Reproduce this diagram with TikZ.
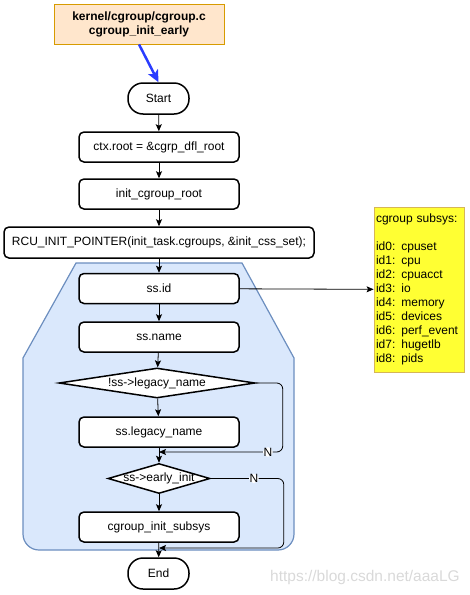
\documentclass[tikz,border=0pt]{standalone}
\usepackage{fontspec}
\setmainfont{Liberation Sans}
\usetikzlibrary{arrows.meta,shapes.geometric}
\definecolor{fileFill}{HTML}{FFE6CC}
\definecolor{fileDraw}{HTML}{D79B00}
\definecolor{loopFill}{HTML}{DAE8FC}
\definecolor{loopDraw}{HTML}{6C8EBF}
\definecolor{noteFill}{HTML}{FFFF33}
\definecolor{noteDraw}{HTML}{D6B656}
\definecolor{callBlue}{HTML}{2A3CFF}
\tikzset{
  fc_node/.style = {align=center, inner sep=0pt, text centered,
    font=\fontsize{12}{14}\selectfont},
  fc_proc/.style = {fc_node, rectangle, rounded corners=5pt, draw=black,
    fill=white, line width=1.5pt, minimum width=160pt, minimum height=30pt},% organigramme, bloc
  fc_term/.style = {fc_node, rectangle, rounded corners=15pt, draw=black,
    fill=white, line width=1.5pt, minimum width=61pt, minimum height=31pt},% organigramme, debut / fin
  fc_cond/.style = {fc_node, diamond, draw=black, fill=white,
    line width=1.5pt, minimum height=30pt},% organigramme, test
  fc_file/.style = {fc_node, rectangle, draw=fileDraw, fill=fileFill,
    line width=0.8pt, minimum width=170pt, minimum height=40pt,
    font=\fontsize{12}{14}\selectfont\bfseries},% fichier source
  fc_note/.style = {fc_node, rectangle, draw=noteDraw, fill=noteFill,
    line width=0.8pt, align=left, text width=86pt, inner xsep=2pt,
    minimum height=165pt},% note
  fc_n/.style = {fc_node, fill=white, inner sep=0.5pt},% etiquette
  fc_call/.style = {-{Stealth[length=12pt, width=11pt, inset=3pt]},
    line width=2.5pt, draw=callBlue},
  fc_loop/.style = {-, draw=loopDraw, fill=loopFill, line width=1.2pt}
}

\begin{document}
\begin{tikzpicture}[x=1pt, y=-1pt, ->,
  >={Stealth[length=7pt, width=6pt, inset=1.5pt]}, line width=0.8pt]
\useasboundingbox (0,0) rectangle (470,595);
% boucle sur les sous-systemes
\draw [fc_loop] (76,263) -- (242,263) -- (294,358) [rounded corners=16pt]
  -- (294,550) -- (23,550) [sharp corners] -- (23,358) -- cycle;

\node [fc_file] (file) at (139,24) {kernel/cgroup/cgroup.c\\cgroup\_init\_early};
\node [fc_term] (start) at (158.5,98.5) {Start};
\node [fc_proc] (ctxroot) at (159,147) {ctx.root = \&cgrp\_dfl\_root};
\node [fc_proc] (initroot) at (159,194) {init\_cgroup\_root};
\node [fc_proc, minimum width=310pt, minimum height=31pt] (rcu) at (159,242.5)
  {RCU\_INIT\_POINTER(init\_task.cgroups, \&init\_css\_set);};
\node [fc_proc] (ssid) at (159,288.5) {ss.id};
\node [fc_proc] (ssname) at (159,337) {ss.name};
\node [fc_cond, aspect=6.5, minimum width=196pt] (legacy_if) at (157,383)
  {!ss->legacy\_name};
\node [fc_proc] (sslegacy) at (159,432) {ss.legacy\_name};
\node [fc_cond, aspect=3.4, inner xsep=-3.5pt, minimum width=102pt] (early_if)
  at (159,478.5) {ss->early\_init};
\node [fc_proc] (initsubsys) at (159,527) {cgroup\_init\_subsys};
\node [fc_term] (end) at (158.5,573.5) {End};
\coordinate (merge_a) at (159,452);
\coordinate (merge_b) at (159,548);

\node [fc_note] (subsys) at (419,289.5) {cgroup subsys:\\[14pt]
  id0: cpuset\\ id1: cpu\\ id2: cpuacct\\ id3: io\\ id4: memory\\
  id5: devices\\ id6: perf\_event\\ id7: hugetlb\\ id8: pids};

\node [fc_node, text=gray!30, font=\fontsize{15.5}{18}\selectfont] (mark)
  at (365,577) {https://blog.csdn.net/aaaLG};

\draw [fc_call] (file.south) -- (start.north);
\draw (start) -- (ctxroot);
\draw (ctxroot) -- (initroot);
\draw (initroot) -- (rcu);
\draw (rcu) -- (ssid);
\draw (ssid) -- (ssname);
\draw (ssid) -- (subsys);
\draw (ssname) -- (legacy_if);
\draw (legacy_if) -- (sslegacy);
\draw (sslegacy) -- (early_if);
\draw [rounded corners=6pt] (legacy_if.east) -- ++(27,0)
  |- node [fc_n, pos=0.56] {N} (merge_a);
\draw (early_if) -- (initsubsys);
\draw [rounded corners=6pt] (early_if.east) -- node [fc_n, pos=0.59] {N}
  ++(73,0) |- (merge_b);
\draw (initsubsys) -- (end);
\end{tikzpicture}
\end{document}
